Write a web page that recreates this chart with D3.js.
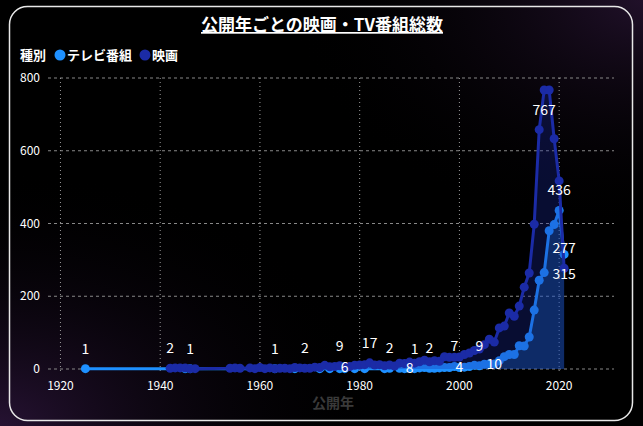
<!DOCTYPE html>
<html>
<head>
<meta charset="utf-8">
<script src="https://cdn.jsdelivr.net/npm/d3@7"></script>
<style>
  html, body { margin: 0; padding: 0; background: #000; }
  svg { display: block; font-family: "Noto Sans CJK JP", "Noto Sans", sans-serif; }
</style>
</head>
<body>
<svg id="chart" width="643" height="426"></svg>
<script>
// 公開年ごとの件数
var tvYears = [1925, 1945, 1946, 1963, 1967, 1972, 1974, 1976, 1977, 1979, 1981, 1985, 1986, 1988, 1989, 1990,
  1991, 1992, 1993, 1994, 1995, 1996, 1997, 1998, 1999, 2000, 2001, 2002, 2003, 2004, 2005, 2006,
  2007, 2008, 2009, 2010, 2011, 2012, 2013, 2014, 2015, 2016, 2017, 2018, 2019, 2020, 2021];
var tvCounts = [1, 1, 1, 1, 1, 1, 1, 1, 1, 1, 1, 1, 2, 2, 1, 3,
  1, 3, 4, 2, 2, 3, 4, 4, 7, 4, 5, 7, 10, 9, 13, 14,
  14, 23, 34, 40, 40, 64, 63, 88, 162, 244, 265, 380, 397, 436, 315];

var movieYears = [1942, 1943, 1944, 1945, 1946, 1947, 1954, 1955, 1956, 1958, 1959, 1960, 1961, 1962, 1963,
  1964, 1965, 1966, 1967, 1968, 1969, 1970, 1971, 1972, 1973, 1974, 1975, 1976, 1977, 1978, 1979,
  1980, 1981, 1982, 1983, 1984, 1985, 1986, 1987, 1988, 1989, 1990, 1991, 1992, 1993, 1994, 1995,
  1996, 1997, 1998, 1999, 2000, 2001, 2002, 2003, 2004, 2005, 2006, 2007, 2008, 2009, 2010, 2011,
  2012, 2013, 2014, 2015, 2016, 2017, 2018, 2019, 2020, 2021];
var movieCounts = [2, 3, 3, 3, 1, 1, 2, 3, 2, 3, 1, 4, 1, 3, 1,
  2, 2, 1, 4, 3, 2, 2, 5, 4, 10, 6, 7, 9, 6, 7, 10,
  11, 12, 17, 11, 12, 9, 11, 8, 16, 15, 19, 16, 20, 24, 20, 23,
  21, 34, 32, 32, 33, 40, 44, 51, 55, 67, 82, 74, 113, 118, 154, 145,
  173, 225, 264, 398, 658, 767, 767, 633, 517, 277];

// 表示されているデータラベル
var labelSeries = ["tv", "movie", "movie", "movie", "movie", "movie", "movie", "tv", "tv", "tv", "tv", "tv",
  "movie", "tv", "tv", "tv", "movie", "tv", "movie", "tv"];
var labelYears = [1925, 1942, 1946, 1963, 1969, 1976, 1982, 1986, 1991, 1994, 1999, 2004,
  1977, 1990, 2000, 2007, 2017, 2020, 2021, 2021];
var labelTexts = ["1", "2", "1", "1", "2", "9", "17", "2", "1", "2", "7", "9",
  "6", "8", "4", "10", "767", "436", "277", "315"];
var labelPlaces = ["top", "top", "top", "top", "top", "top", "top", "top", "top", "top", "top", "top",
  "center", "center", "center", "center", "bottom", "top", "top", "bottom"];

var xTicks = [1920, 1940, 1960, 1980, 2000, 2020];
var yTicks = [0, 200, 400, 600, 800];

var TV_COLOR = "#1e90ff", MOVIE_COLOR = "#1b2ba6";

var svg = d3.select("#chart");
var W = 643, H = 426;

// 背景
var defs = svg.append("defs");
var g1 = defs.append("radialGradient").attr("id", "bgBL").attr("cx", "0%").attr("cy", "100%").attr("r", "60%");
g1.append("stop").attr("offset", "0%").attr("stop-color", "#2a1438").attr("stop-opacity", 0.9);
g1.append("stop").attr("offset", "100%").attr("stop-color", "#000").attr("stop-opacity", 0);
var g2 = defs.append("radialGradient").attr("id", "bgTR").attr("cx", "100%").attr("cy", "0%").attr("r", "55%");
g2.append("stop").attr("offset", "0%").attr("stop-color", "#24122e").attr("stop-opacity", 0.9);
g2.append("stop").attr("offset", "100%").attr("stop-color", "#000").attr("stop-opacity", 0);

svg.append("rect").attr("width", W).attr("height", H).attr("fill", "#000");
svg.append("rect").attr("width", W).attr("height", H).attr("fill", "url(#bgBL)");
svg.append("rect").attr("width", W).attr("height", H).attr("fill", "url(#bgTR)");

// 枠
svg.append("rect")
  .attr("x", 9.5).attr("y", 6.5).attr("width", 623).attr("height", 414)
  .attr("rx", 18).attr("ry", 18)
  .attr("fill", "none").attr("stroke", "#e8e8e8").attr("stroke-width", 1.5);

var x = d3.scaleLinear().domain([1917.5, 2031]).range([48, 614]);
var y = d3.scaleLinear().domain([0, 800]).range([369, 78]);

// グリッド
var grid = svg.append("g");
grid.selectAll(".hgrid")
  .data(yTicks)
.enter().append("line")
  .attr("class", "hgrid")
  .attr("x1", x.range()[0]).attr("x2", x.range()[1])
  .attr("y1", function(d){ return y(d); }).attr("y2", function(d){ return y(d); })
  .attr("stroke", "#888").attr("stroke-width", 1).attr("stroke-dasharray", "3,3");
grid.selectAll(".vgrid")
  .data(xTicks)
.enter().append("line")
  .attr("class", "vgrid")
  .attr("x1", function(d){ return x(d); }).attr("x2", function(d){ return x(d); })
  .attr("y1", y(800)).attr("y2", y(0) + 4)
  .attr("stroke", "#999").attr("stroke-width", 1).attr("stroke-dasharray", "1,3");

// 軸ラベル
svg.append("g").selectAll("text")
  .data(yTicks)
.enter().append("text")
  .attr("x", 40).attr("y", function(d){ return y(d); })
  .attr("dy", "0.35em").attr("text-anchor", "end")
  .attr("fill", "#fff").style("font-size", "12px")
  .text(function(d){ return d; });
svg.append("g").selectAll("text")
  .data(xTicks)
.enter().append("text")
  .attr("x", function(d){ return x(d); }).attr("y", 386)
  .attr("dy", "0.35em").attr("text-anchor", "middle")
  .attr("fill", "#fff").style("font-size", "12px")
  .text(function(d){ return d; });
svg.append("text")
  .attr("x", 333).attr("y", 403).attr("dy", "0.35em").attr("text-anchor", "middle")
  .attr("fill", "#3a3a3a").style("font-size", "14px").style("font-weight", "bold")
  .text("公開年");

// 系列
var tvData = tvYears.map(function(yr, i){ return { year: yr, value: tvCounts[i] }; });
var movieData = movieYears.map(function(yr, i){ return { year: yr, value: movieCounts[i] }; });

var area = d3.area()
  .x(function(d){ return x(d.year); })
  .y0(y(0))
  .y1(function(d){ return y(d.value); });
var line = d3.line()
  .x(function(d){ return x(d.year); })
  .y(function(d){ return y(d.value); });

function drawSeries(data, color, areaOpacity){
  var s = svg.append("g");
  s.append("path").datum(data)
    .attr("d", area)
    .attr("fill", color).attr("fill-opacity", areaOpacity);
  s.append("path").datum(data)
    .attr("d", line)
    .attr("fill", "none").attr("stroke", color).attr("stroke-width", 3)
    .attr("stroke-linejoin", "round");
  s.selectAll("circle")
    .data(data)
  .enter().append("circle")
    .attr("cx", function(d){ return x(d.year); })
    .attr("cy", function(d){ return y(d.value); })
    .attr("r", 4.5)
    .attr("fill", color);
}
drawSeries(tvData, TV_COLOR, 0.3);
drawSeries(movieData, MOVIE_COLOR, 0.3);

// データラベル
function valueAt(series, yr){
  var ys = series === "tv" ? tvYears : movieYears;
  var vs = series === "tv" ? tvCounts : movieCounts;
  return vs[ys.indexOf(yr)];
}
var placeShift = { top: -20, center: 0, bottom: 20 };
svg.append("g").selectAll("text")
  .data(labelYears)
.enter().append("text")
  .attr("x", function(d){ return x(d); })
  .attr("y", function(d, i){ return y(valueAt(labelSeries[i], d)) + placeShift[labelPlaces[i]]; })
  .attr("dy", "0.35em").attr("text-anchor", "middle")
  .attr("fill", "#fff").style("font-size", "14px")
  .text(function(d, i){ return labelTexts[i]; });

// タイトル
svg.append("text")
  .attr("x", 322).attr("y", 31).attr("text-anchor", "middle")
  .attr("fill", "#fff").style("font-size", "17px").style("font-weight", "bold")
  .style("text-decoration", "underline")
  .text("公開年ごとの映画・TV番組総数");

// 凡例
var legend = svg.append("g").style("font-size", "13px").style("font-weight", "bold");
legend.append("text").attr("x", 20).attr("y", 55).attr("dy", "0.35em").attr("fill", "#fff").text("種別");
var legendItems = [{ name: "テレビ番組", color: TV_COLOR, x: 60 }, { name: "映画", color: MOVIE_COLOR, x: 145 }];
legendItems.forEach(function(it){
  legend.append("circle").attr("cx", it.x).attr("cy", 55).attr("r", 5.5).attr("fill", it.color);
  legend.append("text").attr("x", it.x + 7).attr("y", 55).attr("dy", "0.35em").attr("fill", "#fff").text(it.name);
});
</script>
</body>
</html>
